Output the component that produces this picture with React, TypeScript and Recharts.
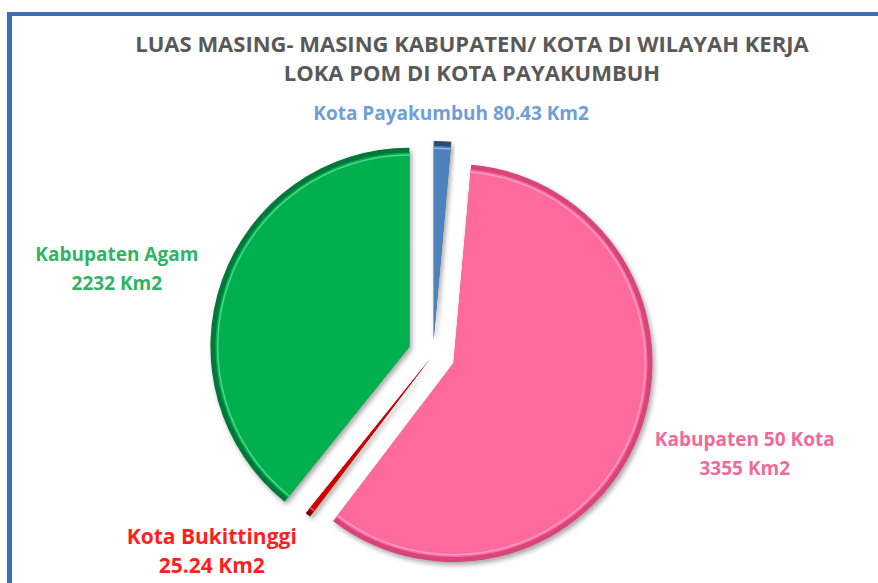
import React from 'react';
import { PieChart, Pie, Sector } from 'recharts';

const regions = ['Kota Payakumbuh', 'Kabupaten 50 Kota', 'Kota Bukittinggi', 'Kabupaten Agam'];
const areas = [80.43, 3355, 25.24, 2232];
const areaLabels = ['80.43 Km2', '3355 Km2', '25.24 Km2', '2232 Km2'];

const fills = ['#4f81bd', '#ff6a9c', '#d00000', '#00b050'];
const edges = ['#2c4d75', '#d8457a', '#7a0000', '#00773a'];
const shines = ['#8fb3e0', '#ff9cc0', '#ff5050', '#4fd68a'];
const textColors = ['#6f9fd8', '#ee6a9b', '#ff1f1f', '#2fb463'];
const labelSizes = [19, 19, 21, 19];
const explode = [15, 22, 4, 25];
// label spot: distance from the pie centre and an angle nudge (deg)
const labelSpot = [
  { r: 239, da: -3 },
  { r: 333, da: 3.2 },
  { r: 294, da: -9.3 },
  { r: 322, da: 4.5 },
];

const RAD = Math.PI / 180;

const data = regions.map((name, i) => ({ name, value: areas[i], idx: i }));

const ExplodedSlice = (props: any) => {
  const { cx, cy, outerRadius, startAngle, endAngle, midAngle, payload } = props;
  const i = payload?.idx ?? props.index ?? 0;
  const d = explode[i];
  const x = cx + d * Math.cos(-midAngle * RAD);
  const y = cy + d * Math.sin(-midAngle * RAD);
  return (
    <g filter="url(#sliceShadow)">
      <Sector cx={x} cy={y} innerRadius={0} outerRadius={outerRadius} startAngle={startAngle} endAngle={endAngle} fill={edges[i]} />
      <Sector cx={x} cy={y} innerRadius={0} outerRadius={outerRadius - 5} startAngle={startAngle} endAngle={endAngle} fill={fills[i]} />
      <Sector cx={x} cy={y} innerRadius={outerRadius - 8} outerRadius={outerRadius - 6.5} startAngle={startAngle} endAngle={endAngle} fill={shines[i]} />
    </g>
  );
};

const SliceLabel = (props: any) => {
  const { cx, cy, midAngle, index } = props;
  const spot = labelSpot[index];
  const a = midAngle + spot.da;
  const x = cx + spot.r * Math.cos(-a * RAD) - 5;
  const y = cy + spot.r * Math.sin(-a * RAD) - 4;
  const style = { fontFamily: 'Open Sans', fontWeight: 700, fontSize: labelSizes[index] };
  if (index === 0) {
    return (
      <text x={x} y={y} textAnchor="middle" dominantBaseline="central" fill={textColors[index]} style={style}>
        {regions[index]} {areaLabels[index]}
      </text>
    );
  }
  return (
    <text x={x} y={y} textAnchor="middle" fill={textColors[index]} style={style}>
      <tspan x={x} dy={-14.5} dominantBaseline="central">{regions[index]}</tspan>
      <tspan x={x} dy={29} dominantBaseline="central">{areaLabels[index]}</tspan>
    </text>
  );
};

export default function App() {
  return (
    <div style={{ position: 'absolute', left: 0, top: 0, width: 878, height: 583, overflow: 'hidden', background: '#fff' }}>
      <div style={{ position: 'absolute', left: 7, top: 12, width: 1000, height: 1000, borderLeft: '5px solid #3a6fb2', borderTop: '4px solid #3a6fb2' }} />
      <div style={{ position: 'absolute', left: 0, top: 29, width: 944, textAlign: 'center', fontFamily: 'Open Sans', fontWeight: 700, fontSize: 22, lineHeight: '29px', color: '#595959' }}>
        LUAS MASING- MASING KABUPATEN/ KOTA DI WILAYAH KERJA
        <br />
        LOKA POM DI KOTA PAYAKUMBUH
      </div>
      <div style={{ position: 'absolute', left: 0, top: 0 }}>
        <PieChart width={878} height={583}>
          <defs>
            <filter id="sliceShadow" x="-20%" y="-20%" width="140%" height="140%">
              <feDropShadow dx="2" dy="3" stdDeviation="2.5" floodColor="#000" floodOpacity="0.35" />
            </filter>
          </defs>
          <Pie
            data={data}
            dataKey="value"
            nameKey="name"
            cx={428}
            cy={350}
            outerRadius={199}
            startAngle={90}
            endAngle={-270}
            stroke="none"
            shape={ExplodedSlice}
            label={SliceLabel}
            labelLine={false}
            isAnimationActive={false}
          />
        </PieChart>
      </div>
    </div>
  );
}
